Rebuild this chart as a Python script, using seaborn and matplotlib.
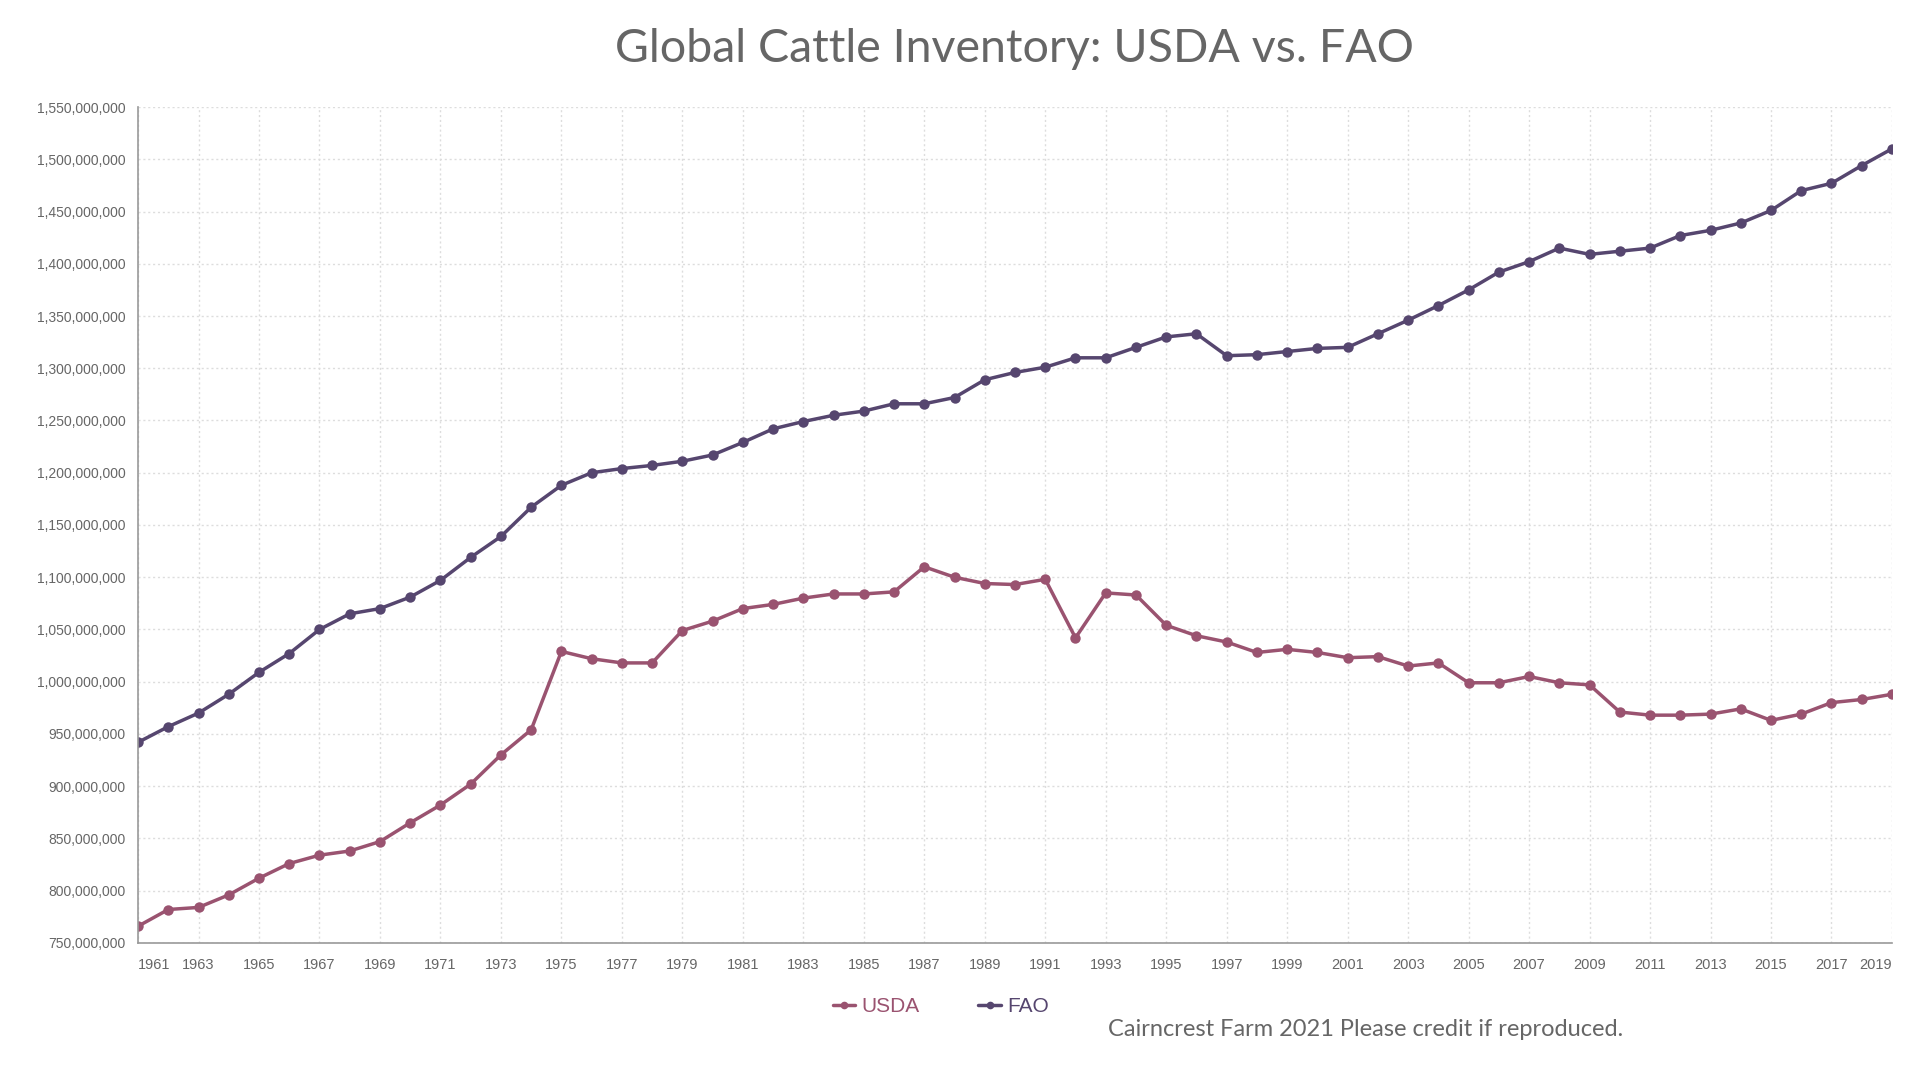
import numpy as np
import pandas as pd
import seaborn as sns
import matplotlib.pyplot as plt
from matplotlib.ticker import FuncFormatter, MultipleLocator

# yillar ve seriler (milyon bas)
years = list(range(1961, 2020))

fao = [942, 957, 970, 988, 1009, 1027, 1050, 1065, 1070, 1081,
       1097, 1119, 1139, 1167, 1188, 1200, 1204, 1207, 1211, 1217,
       1229, 1242, 1249, 1255, 1259, 1266, 1266, 1272, 1289, 1296,
       1301, 1310, 1310, 1320, 1330, 1333, 1312, 1313, 1316, 1319,
       1320, 1333, 1346, 1360, 1375, 1392, 1402, 1415, 1409, 1412,
       1415, 1427, 1432, 1439, 1451, 1470, 1477, 1494, 1510]

usda = [766, 782, 784, 796, 812, 826, 834, 838, 847, 865,
        882, 902, 930, 954, 1029, 1022, 1018, 1018, 1049, 1058,
        1070, 1074, 1080, 1084, 1084, 1086, 1110, 1100, 1094, 1093,
        1098, 1042, 1085, 1083, 1054, 1044, 1038, 1028, 1031, 1028,
        1023, 1024, 1015, 1018, 999, 999, 1005, 999, 997, 971,
        968, 968, 969, 974, 963, 969, 980, 983, 988]

tick_years = list(range(1961, 2020, 2))

df = pd.DataFrame({
    'Year': years * 2,
    'Cattle': [v * 1e6 for v in usda] + [v * 1e6 for v in fao],
    'Source': ['USDA'] * len(years) + ['FAO'] * len(years),
})

colors = {'USDA': '#9a5370', 'FAO': '#56466f'}

sns.set_style('white')
plt.rcParams['font.family'] = ['Liberation Sans', 'DejaVu Sans']

fig = plt.figure(figsize=(19.2, 10.8), dpi=100)
ax = fig.add_axes([0.0719, 0.1269, 0.9135, 0.774])

sns.lineplot(data=df, x='Year', y='Cattle', hue='Source', palette=colors,
             marker='o', markersize=7.5, markeredgewidth=0, linewidth=2.5,
             ax=ax, legend=False)

ax.set_xlim(1961, 2019)
ax.set_ylim(750e6, 1550e6)
ax.yaxis.set_major_locator(MultipleLocator(50e6))
ax.yaxis.set_major_formatter(FuncFormatter(lambda v, p: f'{int(round(v)):,}'))
ax.set_xticks(tick_years)
ax.set_xticklabels([str(y) for y in tick_years])
ax.set_xlabel('')
ax.set_ylabel('')

# ilk ve son etiketler eksen icinde kalsin
labs = ax.get_xticklabels()
labs[0].set_ha('left')
labs[-1].set_ha('right')

ax.grid(True, which='major', color='#dddddd', linestyle=(0, (1.5, 2)), linewidth=1)
for s in ['top', 'right']:
    ax.spines[s].set_visible(False)
for s in ['left', 'bottom']:
    ax.spines[s].set_color('#999999')
    ax.spines[s].set_linewidth(1.2)
ax.tick_params(axis='both', colors='#999999', length=5, width=1.2, labelcolor='#666666')
ax.tick_params(axis='y', labelsize=10, pad=4)
ax.tick_params(axis='x', labelsize=10.5, pad=6)

fig.text(0.5286, 0.955, 'Global Cattle Inventory: USDA vs. FAO', ha='center', va='center',
         fontsize=33.5, color='#666666', family='Lato')

# legend
handles = [plt.Line2D([], [], color=colors[k], marker='o', markersize=5.5, linewidth=2.5,
                      markeredgewidth=0) for k in ['USDA', 'FAO']]
leg = fig.legend(handles, ['USDA', 'FAO'], loc='center', bbox_to_anchor=(0.49, 0.068),
                 ncol=2, frameon=False, fontsize=15, handlelength=1.1,
                 handletextpad=0.3, columnspacing=2.8)
for t, k in zip(leg.get_texts(), ['USDA', 'FAO']):
    t.set_color(colors[k])

fig.text(0.7115, 0.047, 'Cairncrest Farm 2021 Please credit if reproduced.', ha='center',
         va='center', fontsize=17, color='#666666', family='Lato')

fig.savefig('out.png', dpi=100)
